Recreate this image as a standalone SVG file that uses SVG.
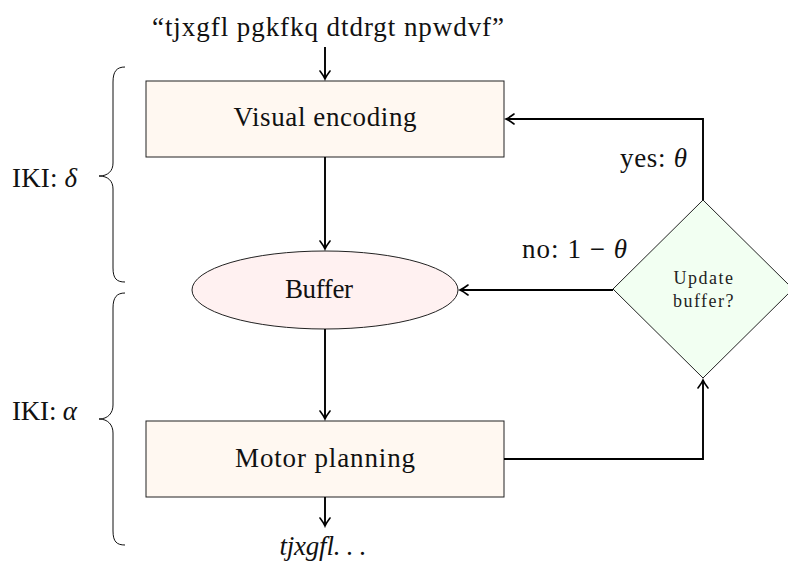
<svg xmlns="http://www.w3.org/2000/svg" width="788" height="565" viewBox="0 0 788 565">
  <style>
    text { font-family: "Liberation Serif", "Times New Roman", serif; fill: #111; }
    .lbl { font-size: 27px; }
    .small { fill: #222; letter-spacing: 1.5px; }
    .node { stroke: #222; stroke-width: 1; }
    .box { fill: #fff8f1; }
    .ell { fill: #fff1f1; }
    .dia { fill: #f2fff2; }
    .edge { fill: none; stroke: #000; stroke-width: 1.9; }
    .brace { fill: none; stroke: #111; stroke-width: 1; }
  </style>
  <defs>
    <marker id="arr" viewBox="-10 -6 12 12" refX="0" refY="0" markerWidth="12" markerHeight="12" markerUnits="userSpaceOnUse" orient="auto">
      <path d="M-8,-5 Q-3,-1.2 0,0 Q-3,1.2 -8,5" fill="none" stroke="#000" stroke-width="1.6" stroke-linecap="round"/>
    </marker>
  </defs>

  <!-- input string -->
  <text class="lbl" x="328" y="36" text-anchor="middle" textLength="352" lengthAdjust="spacing">“tjxgfl pgkfkq dtdrgt npwdvf”</text>

  <g id="visual-encoding">
    <rect class="node box" x="146" y="81" width="358" height="76"/>
    <text class="lbl" x="325" y="126" text-anchor="middle" textLength="183" lengthAdjust="spacing">Visual encoding</text>
  </g>

  <g id="buffer">
    <ellipse class="node ell" cx="325" cy="290" rx="133" ry="39"/>
    <text class="lbl" x="319" y="298" text-anchor="middle" textLength="68" lengthAdjust="spacing">Buffer</text>
  </g>

  <g id="motor-planning">
    <rect class="node box" x="146" y="421" width="358" height="76"/>
    <text class="lbl" x="325" y="467" text-anchor="middle" textLength="180" lengthAdjust="spacing">Motor planning</text>
  </g>

  <g id="update-buffer">
    <polygon class="node dia" points="703,200 793,289 703,378 613,289"/>
    <text class="small" x="704" y="284" text-anchor="middle" font-size="18">Update</text>
    <text class="small" x="704" y="307" text-anchor="middle" font-size="18">buffer?</text>
  </g>

  <!-- output string -->
  <text class="lbl" x="323" y="555" text-anchor="middle" font-style="italic" textLength="87" lengthAdjust="spacing">tjxgfl. . .</text>

  <g id="connectors">
    <path class="edge" d="M325,47 L325,79" marker-end="url(#arr)"/>
    <path class="edge" d="M325,157 L325,249" marker-end="url(#arr)"/>
    <path class="edge" d="M325,329 L325,419" marker-end="url(#arr)"/>
    <path class="edge" d="M325,497 L325,526" marker-end="url(#arr)"/>
    <path class="edge" d="M703,200 L703,119 L506,119" marker-end="url(#arr)"/>
    <path class="edge" d="M613,290 L460,290" marker-end="url(#arr)"/>
    <path class="edge" d="M504,459 L703,459 L703,380" marker-end="url(#arr)"/>
    <text class="lbl" x="620" y="167" textLength="67" lengthAdjust="spacing">yes: <tspan font-style="italic">θ</tspan></text>
    <text class="lbl" x="522" y="258" textLength="105" lengthAdjust="spacing">no: 1 − <tspan font-style="italic">θ</tspan></text>
  </g>

  <g id="braces">
    <path class="brace" d="M125,67 C117,67 113,71 113,82 L113,163 C113,171 108,176 99,176 C108,176 113,181 113,189 L113,268 C113,279 117,282 125,282"/>
    <path class="brace" d="M125,293 C117,293 113,297 113,308 L113,405 C113,413 108,419 99,419 C108,419 113,425 113,433 L113,531 C113,542 117,545 125,545"/>
    <text class="lbl" x="12" y="187" textLength="65" lengthAdjust="spacing">IKI: <tspan font-style="italic">δ</tspan></text>
    <text class="lbl" x="12" y="420" textLength="65" lengthAdjust="spacing">IKI: <tspan font-style="italic">α</tspan></text>
  </g>
</svg>
